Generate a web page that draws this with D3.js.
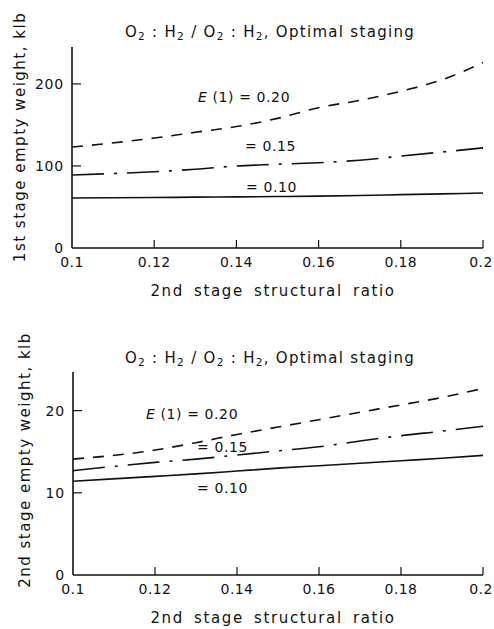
<!DOCTYPE html>
<html>
<head>
<meta charset="utf-8">
<script src="https://cdn.jsdelivr.net/npm/d3@7"></script>
<style>
  body { margin: 0; background: #fff; }
  text { font-family: "DejaVu Sans", sans-serif; fill: #111; }
</style>
</head>
<body>
<div id="chart"></div>
<script>
// structural ratio of the 2nd stage
const ratios = [0.10, 0.12, 0.13, 0.14, 0.15, 0.16, 0.17, 0.18, 0.19, 0.20]
// 1st stage empty weight, klb
const firstE20 = [123, 134, 141, 148, 158, 171, 180, 191, 205, 226]
const firstE15 = [89, 93, 96, 100, 102, 104, 107, 112, 117, 122]
const firstE10 = [61, 61.5, 62, 62.3, 62.7, 63.2, 64, 65, 66, 67]
// 2nd stage empty weight, klb
const secondE20 = [14.1, 15.2, 16.1, 17.1, 18.0, 18.9, 19.8, 20.7, 21.6, 22.7]
const secondE15 = [12.7, 13.7, 14.1, 14.6, 15.1, 15.6, 16.3, 16.95, 17.5, 18.1]
const secondE10 = [11.4, 12.0, 12.3, 12.65, 13.0, 13.3, 13.6, 13.9, 14.2, 14.55]
const xTicks = [0.1, 0.12, 0.14, 0.16, 0.18, 0.2]

const width = 494, height = 629
const svg = d3.select('#chart').append('svg')
    .attr('width', width)
    .attr('height', height)

// dash styles for each E(1)
const styles = {
    e20: '11,9',
    e15: '32,10,3,10',
    e10: null
}

function drawPanel(opt) {
    const x = d3.scaleLinear().domain([0.1, 0.2]).range([opt.left, opt.right])
    const y = d3.scaleLinear().domain([0, opt.yMax]).range([opt.bottom, opt.top])
    const g = svg.append('g')

    // axes (ticks inward)
    g.append('line')
        .attr('x1', opt.left).attr('x2', opt.left)
        .attr('y1', opt.top).attr('y2', opt.bottom)
        .attr('stroke', '#111').attr('stroke-width', 1.6)
    g.append('line')
        .attr('x1', opt.left).attr('x2', opt.right)
        .attr('y1', opt.bottom).attr('y2', opt.bottom)
        .attr('stroke', '#111').attr('stroke-width', 1.6)

    g.selectAll('.xt').data(xTicks.slice(1)).enter().append('line')
        .attr('x1', d => x(d)).attr('x2', d => x(d))
        .attr('y1', opt.bottom).attr('y2', opt.bottom - 8)
        .attr('stroke', '#111').attr('stroke-width', 1.2)
    g.selectAll('.xl').data(xTicks).enter().append('text')
        .attr('x', d => x(d) + (d === 0.2 ? -2 : 0))
        .attr('y', opt.bottom + 19)
        .attr('text-anchor', 'middle')
        .attr('font-size', 14)
        .attr('letter-spacing', 0.4)
        .text(d => d)

    g.selectAll('.yt').data(opt.yTicks.slice(1)).enter().append('line')
        .attr('x1', opt.left).attr('x2', opt.left + 9)
        .attr('y1', d => y(d)).attr('y2', d => y(d))
        .attr('stroke', '#111').attr('stroke-width', 1.2)
    g.selectAll('.yl').data(opt.yTicks).enter().append('text')
        .attr('x', opt.left - 8)
        .attr('y', d => y(d) + 5)
        .attr('text-anchor', 'end')
        .attr('font-size', 14)
        .attr('letter-spacing', 0.8)
        .text(d => d)

    // title with subscripts
    const title = g.append('text')
        .attr('x', 270).attr('y', opt.titleY)
        .attr('text-anchor', 'middle')
        .attr('font-size', 15)
        .attr('letter-spacing', 1.3)
    const parts = [['O', ''], ['2', 'sub'], [' : H', ''], ['2', 'sub'], [' / O', ''], ['2', 'sub'],
        [' : H', ''], ['2', 'sub'], [', Optimal  staging', '']]
    parts.forEach(p => {
        const t = title.append('tspan').text(p[0])
        if (p[1] === 'sub') t.attr('baseline-shift', '-25%').attr('font-size', 10.5)
    })

    g.append('text')
        .attr('transform', 'translate(' + opt.yLabelX + ',' + opt.yLabelY + ') rotate(-90)')
        .attr('text-anchor', 'middle')
        .attr('font-size', 15)
        .attr('letter-spacing', 1.5)
        .text(opt.yLabel)
    g.append('text')
        .attr('x', 273).attr('y', opt.bottom + 48)
        .attr('text-anchor', 'middle')
        .attr('font-size', 15)
        .attr('letter-spacing', 1.6)
        .attr('word-spacing', 4)
        .text('2nd stage structural ratio')

    const line = d3.line()
        .x((d, i) => x(ratios[i]))
        .y(d => y(d))
        .curve(d3.curveMonotoneX)
    opt.series.forEach(s => {
        g.append('path')
            .datum(s.values)
            .attr('d', line)
            .attr('fill', 'none')
            .attr('stroke', '#111')
            .attr('stroke-width', 1.6)
            .attr('stroke-dasharray', s.dash)
    })

    opt.labels.forEach(l => {
        const t = g.append('text')
            .attr('x', l.x).attr('y', l.y + 5)
            .attr('font-size', 14)
            .attr('letter-spacing', 0.6)
        if (l.e) {
            t.append('tspan').attr('font-style', 'italic').text('E')
            t.append('tspan').text(' (1) = ' + l.text)
        } else {
            t.text('= ' + l.text)
        }
    })
}

drawPanel({
    left: 72, right: 483, top: 47, bottom: 248,
    yMax: 245, yTicks: [0, 100, 200],
    titleY: 37,
    yLabel: '1st stage empty weight, klb', yLabelX: 25, yLabelY: 137,
    series: [
        { values: firstE20, dash: styles.e20 },
        { values: firstE15, dash: styles.e15 },
        { values: firstE10, dash: styles.e10 }
    ],
    labels: [
        { x: 198, y: 97, text: '0.20', e: true },
        { x: 245, y: 146, text: '0.15' },
        { x: 246, y: 187, text: '0.10' }
    ]
})

drawPanel({
    left: 73, right: 483, top: 372, bottom: 575,
    yMax: 24.7, yTicks: [0, 10, 20],
    titleY: 363,
    yLabel: '2nd stage empty weight, klb', yLabelX: 30, yLabelY: 460,
    series: [
        { values: secondE20, dash: styles.e20 },
        { values: secondE15, dash: styles.e15 },
        { values: secondE10, dash: styles.e10 }
    ],
    labels: [
        { x: 146, y: 414, text: '0.20', e: true },
        { x: 197, y: 447, text: '0.15' },
        { x: 197, y: 488, text: '0.10' }
    ]
})
</script>
</body>
</html>
